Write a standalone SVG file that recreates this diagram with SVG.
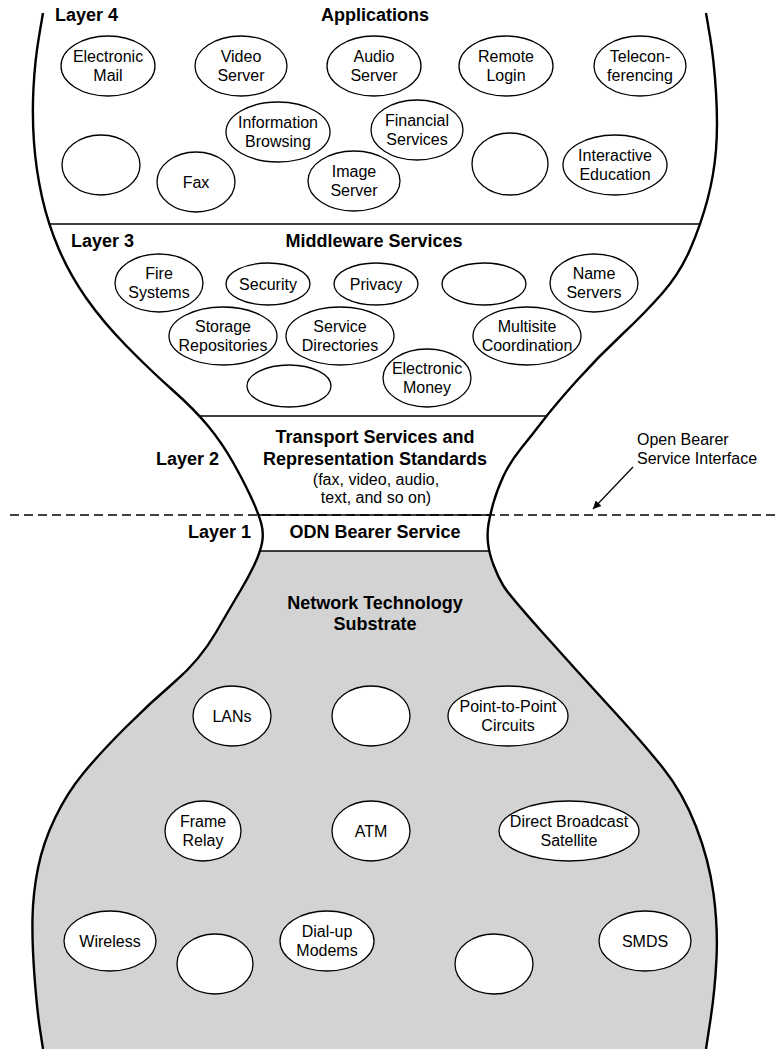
<svg xmlns="http://www.w3.org/2000/svg" width="776" height="1049" viewBox="0 0 776 1049">
<style>
.outline{fill:none;stroke:#000;stroke-width:2.4}
.sep{stroke:#000;stroke-width:1.3;fill:none}
.node ellipse{fill:#fff;stroke:#000;stroke-width:1.3}
text{font-family:"Liberation Sans",Arial,Helvetica,sans-serif;fill:#000}
.t{font-size:16px;text-anchor:middle}
.h{font-size:18px;font-weight:bold;text-anchor:middle}
.lay{font-size:18px;font-weight:bold}
.note{font-size:16px}
</style>
<defs>
<marker id="arrow" viewBox="0 0 10 10" refX="10" refY="5" markerWidth="10" markerHeight="8" markerUnits="userSpaceOnUse" orient="auto">
<path d="M0,0 L10,5 L0,10 Z" fill="#000"/>
</marker>
<mask id="inside" maskUnits="userSpaceOnUse" x="0" y="0" width="776" height="1049">
<rect x="0" y="0" width="776" height="1049" fill="#fff"/>
<path fill="#000" d="M43,13 L39,36.5 Q35,60 33.5,87.5 Q32,115 34,142.5 Q36,170 42,197 Q48,224 59,249.5 Q70,275 86.5,298.5 Q103,322 126.5,346 Q150,370 172.5,390 Q195,410 208.5,426.5 Q222,443 232.5,461.5 Q243,480 250.5,496 Q258,512 261,522.5 Q264,533 262,543 Q260,553 254,565.5 Q248,578 240.5,590.5 Q233,603 216.5,631.5 Q200,660 175,681.5 Q150,703 125,728 Q100,753 83.5,773 Q67,793 55,818 Q43,843 38,868 Q33,893 32.5,918 Q32,943 34.5,976.5 Q37,1010 40,1029.5 L43,1049 L0,1049 L0,13 Z"/>
<path fill="#000" d="M706,13 L710,36.5 Q714,60 716,92.5 Q718,125 716,150 Q714,175 707.5,199.5 Q701,224 690.5,248.5 Q680,273 662.5,293 Q645,313 621.5,335 Q598,357 576.5,381 Q555,405 543.5,420 Q532,435 521,448.5 Q510,462 503.5,476 Q497,490 493.5,502.5 Q490,515 488.5,524 Q487,533 488,543 Q489,553 493.5,565 Q498,577 503.5,586 Q509,595 542.5,632.5 Q576,670 609.5,706.5 Q643,743 663,768 Q683,793 696,826.5 Q709,860 713.5,893.5 Q718,927 716.5,958.5 Q715,990 710.5,1019.5 L706,1049 L776,1049 L776,13 Z"/>
</mask>
</defs>

<g id="substrate-fill">
<rect x="0" y="551" width="776" height="498" fill="#d3d3d3" mask="url(#inside)"/>
</g>

<g id="hourglass">
<path class="outline" d="M43,13 L39,36.5 Q35,60 33.5,87.5 Q32,115 34,142.5 Q36,170 42,197 Q48,224 59,249.5 Q70,275 86.5,298.5 Q103,322 126.5,346 Q150,370 172.5,390 Q195,410 208.5,426.5 Q222,443 232.5,461.5 Q243,480 250.5,496 Q258,512 261,522.5 Q264,533 262,543 Q260,553 254,565.5 Q248,578 240.5,590.5 Q233,603 216.5,631.5 Q200,660 175,681.5 Q150,703 125,728 Q100,753 83.5,773 Q67,793 55,818 Q43,843 38,868 Q33,893 32.5,918 Q32,943 34.5,976.5 Q37,1010 40,1029.5 L43,1049"/>
<path class="outline" d="M706,13 L710,36.5 Q714,60 716,92.5 Q718,125 716,150 Q714,175 707.5,199.5 Q701,224 690.5,248.5 Q680,273 662.5,293 Q645,313 621.5,335 Q598,357 576.5,381 Q555,405 543.5,420 Q532,435 521,448.5 Q510,462 503.5,476 Q497,490 493.5,502.5 Q490,515 488.5,524 Q487,533 488,543 Q489,553 493.5,565 Q498,577 503.5,586 Q509,595 542.5,632.5 Q576,670 609.5,706.5 Q643,743 663,768 Q683,793 696,826.5 Q709,860 713.5,893.5 Q718,927 716.5,958.5 Q715,990 710.5,1019.5 L706,1049"/>
<line class="sep" x1="49" y1="224" x2="700" y2="224"/>
<line class="sep" x1="200" y1="416" x2="547" y2="416"/>
<line class="sep" x1="260" y1="551" x2="489" y2="551"/>
</g>

<g id="interface-line">
<line x1="10" y1="515" x2="776" y2="515" stroke="#000" stroke-width="1.3" stroke-dasharray="9 5"/>
<line class="sep" x1="258" y1="515" x2="490" y2="515"/>
</g>

<g id="labels">
<text class="lay" x="55" y="21">Layer 4</text>
<text class="h" x="375" y="21">Applications</text>
<text class="lay" x="71" y="247">Layer 3</text>
<text class="h" x="374" y="247">Middleware Services</text>
<text class="lay" x="219" y="465" text-anchor="end">Layer 2</text>
<text class="h" x="375" y="443">Transport Services and</text>
<text class="h" x="375" y="465">Representation Standards</text>
<text class="t" x="376" y="485">(fax, video, audio,</text>
<text class="t" x="376" y="503">text, and so on)</text>
<text class="lay" x="251" y="538" text-anchor="end">Layer 1</text>
<text class="h" x="375" y="538">ODN Bearer Service</text>
<text class="h" x="375" y="609">Network Technology</text>
<text class="h" x="375" y="630">Substrate</text>
<text class="note" x="637" y="445">Open Bearer</text>
<text class="note" x="637" y="464">Service Interface</text>
</g>

<g id="connectors">
<line x1="633" y1="467" x2="593" y2="509" stroke="#000" stroke-width="1.2" marker-end="url(#arrow)"/>
</g>

<!-- Layer 4 nodes -->
<g id="n-email" class="node"><ellipse cx="108" cy="66" rx="47" ry="30"/><text class="t" x="108" y="62">Electronic</text><text class="t" x="108" y="81">Mail</text></g>
<g id="n-video" class="node"><ellipse cx="241" cy="66" rx="46" ry="30"/><text class="t" x="241" y="62">Video</text><text class="t" x="241" y="81">Server</text></g>
<g id="n-audio" class="node"><ellipse cx="374" cy="66" rx="47" ry="30"/><text class="t" x="374" y="62">Audio</text><text class="t" x="374" y="81">Server</text></g>
<g id="n-remote" class="node"><ellipse cx="506" cy="66" rx="47" ry="30"/><text class="t" x="506" y="62">Remote</text><text class="t" x="506" y="81">Login</text></g>
<g id="n-telecon" class="node"><ellipse cx="640" cy="66" rx="46" ry="30"/><text class="t" x="640" y="62">Telecon-</text><text class="t" x="640" y="81">ferencing</text></g>
<g id="n-app-blank1" class="node"><ellipse cx="101" cy="165" rx="39" ry="30"/></g>
<g id="n-fax" class="node"><ellipse cx="196" cy="182" rx="39" ry="30"/><text class="t" x="196" y="188">Fax</text></g>
<g id="n-info" class="node"><ellipse cx="278" cy="132" rx="52" ry="30"/><text class="t" x="278" y="128">Information</text><text class="t" x="278" y="147">Browsing</text></g>
<g id="n-image" class="node"><ellipse cx="354" cy="181" rx="46" ry="30"/><text class="t" x="354" y="177">Image</text><text class="t" x="354" y="196">Server</text></g>
<g id="n-financial" class="node"><ellipse cx="417" cy="130" rx="46" ry="30"/><text class="t" x="417" y="126">Financial</text><text class="t" x="417" y="145">Services</text></g>
<g id="n-app-blank2" class="node"><ellipse cx="510" cy="164" rx="38" ry="31"/></g>
<g id="n-interactive" class="node"><ellipse cx="615" cy="165" rx="52" ry="30"/><text class="t" x="615" y="161">Interactive</text><text class="t" x="615" y="180">Education</text></g>

<!-- Layer 3 nodes -->
<g id="n-fire" class="node"><ellipse cx="159" cy="283" rx="44" ry="29"/><text class="t" x="159" y="279">Fire</text><text class="t" x="159" y="298">Systems</text></g>
<g id="n-security" class="node"><ellipse cx="268" cy="284" rx="42" ry="21"/><text class="t" x="268" y="290">Security</text></g>
<g id="n-privacy" class="node"><ellipse cx="376" cy="284" rx="42" ry="21"/><text class="t" x="376" y="290">Privacy</text></g>
<g id="n-mid-blank1" class="node"><ellipse cx="484" cy="284" rx="42" ry="21"/></g>
<g id="n-name" class="node"><ellipse cx="594" cy="283" rx="44" ry="29"/><text class="t" x="594" y="279">Name</text><text class="t" x="594" y="298">Servers</text></g>
<g id="n-storage" class="node"><ellipse cx="223" cy="336" rx="54" ry="29"/><text class="t" x="223" y="332">Storage</text><text class="t" x="223" y="351">Repositories</text></g>
<g id="n-directories" class="node"><ellipse cx="340" cy="336" rx="54" ry="29"/><text class="t" x="340" y="332">Service</text><text class="t" x="340" y="351">Directories</text></g>
<g id="n-multisite" class="node"><ellipse cx="527" cy="336" rx="54" ry="29"/><text class="t" x="527" y="332">Multisite</text><text class="t" x="527" y="351">Coordination</text></g>
<g id="n-mid-blank2" class="node"><ellipse cx="289" cy="386" rx="42" ry="21"/></g>
<g id="n-money" class="node"><ellipse cx="427" cy="378" rx="44" ry="29"/><text class="t" x="427" y="374">Electronic</text><text class="t" x="427" y="393">Money</text></g>

<!-- Layer 1 nodes -->
<g id="n-lans" class="node"><ellipse cx="232" cy="716" rx="39" ry="30"/><text class="t" x="232" y="722">LANs</text></g>
<g id="n-net-blank1" class="node"><ellipse cx="371" cy="716" rx="39" ry="30"/></g>
<g id="n-p2p" class="node"><ellipse cx="508" cy="716" rx="60" ry="30"/><text class="t" x="508" y="712">Point-to-Point</text><text class="t" x="508" y="731">Circuits</text></g>
<g id="n-frame" class="node"><ellipse cx="203" cy="831" rx="38" ry="30"/><text class="t" x="203" y="827">Frame</text><text class="t" x="203" y="846">Relay</text></g>
<g id="n-atm" class="node"><ellipse cx="371" cy="831" rx="39" ry="30"/><text class="t" x="371" y="837">ATM</text></g>
<g id="n-dbs" class="node"><ellipse cx="569" cy="831" rx="70" ry="30"/><text class="t" x="569" y="827">Direct Broadcast</text><text class="t" x="569" y="846">Satellite</text></g>
<g id="n-wireless" class="node"><ellipse cx="110" cy="941" rx="46" ry="30"/><text class="t" x="110" y="947">Wireless</text></g>
<g id="n-net-blank2" class="node"><ellipse cx="215" cy="964" rx="38" ry="30"/></g>
<g id="n-dialup" class="node"><ellipse cx="327" cy="941" rx="47" ry="30"/><text class="t" x="327" y="937">Dial-up</text><text class="t" x="327" y="956">Modems</text></g>
<g id="n-net-blank3" class="node"><ellipse cx="494" cy="964" rx="39" ry="30"/></g>
<g id="n-smds" class="node"><ellipse cx="645" cy="941" rx="46" ry="30"/><text class="t" x="645" y="947">SMDS</text></g>
</svg>
